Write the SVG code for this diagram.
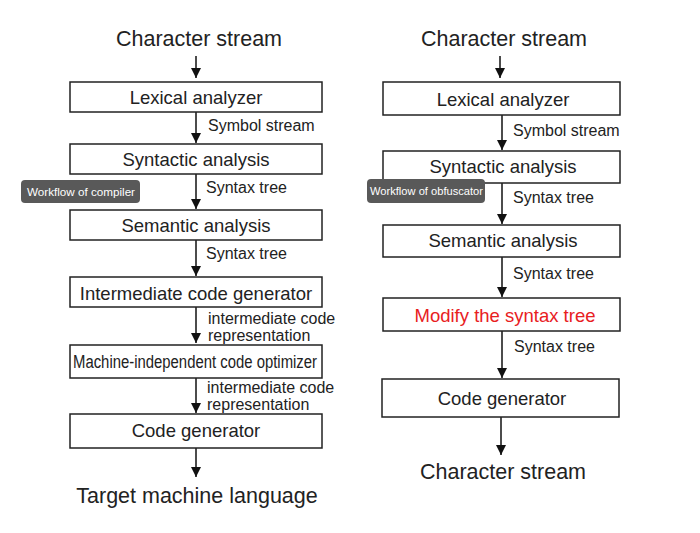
<svg xmlns="http://www.w3.org/2000/svg" width="700" height="533" viewBox="0 0 700 533">
<defs>
<marker id="ah" viewBox="0 0 10 12" refX="10" refY="6" markerWidth="10" markerHeight="12" markerUnits="userSpaceOnUse" orient="auto">
<path d="M0,1 L10,6 L0,11 z" fill="#111"/>
</marker>
<style>
.t{font-family:"Liberation Sans",Arial,sans-serif;fill:#222}
.big{font-size:21.5px;text-anchor:middle}
.box{fill:#fff;stroke:#222;stroke-width:1.5}
.bt{font-size:18.5px;text-anchor:middle}
.lb{font-size:16px}
.tip{fill:#595959}
.tt{font-family:"Liberation Sans",Arial,sans-serif;font-size:11.5px;fill:#fff}
.c{stroke:#111;stroke-width:1.5;fill:none;marker-end:url(#ah)}
</style>
</defs>
<rect width="700" height="533" fill="#fff"/>
<g id="connectors">
<line class="c" x1="196" y1="56" x2="196" y2="78"/>
<line class="c" x1="196" y1="112" x2="196" y2="143"/>
<line class="c" x1="196" y1="174" x2="196" y2="209"/>
<line class="c" x1="196" y1="240" x2="196" y2="276"/>
<line class="c" x1="196" y1="307" x2="196" y2="343"/>
<line class="c" x1="196" y1="378" x2="196" y2="413"/>
<line class="c" x1="196" y1="448" x2="196" y2="477"/>
<line class="c" x1="500" y1="56" x2="500" y2="78"/>
<line class="c" x1="502" y1="115" x2="502" y2="150"/>
<line class="c" x1="502" y1="183" x2="502" y2="224"/>
<line class="c" x1="502" y1="257" x2="502" y2="297"/>
<line class="c" x1="502" y1="331" x2="502" y2="378"/>
<line class="c" x1="501" y1="417" x2="501" y2="455"/>
</g>
<g id="labels-left">
<text class="t lb" x="208" y="131">Symbol stream</text>
<text class="t lb" x="206" y="193">Syntax tree</text>
<text class="t lb" x="206" y="259">Syntax tree</text>
<text class="t lb" x="208" y="324">intermediate code</text>
<text class="t lb" x="208" y="341">representation</text>
<text class="t lb" x="207" y="393">intermediate code</text>
<text class="t lb" x="207" y="410">representation</text>
</g>
<g id="labels-right">
<text class="t lb" x="513" y="136">Symbol stream</text>
<text class="t lb" x="513" y="203">Syntax tree</text>
<text class="t lb" x="513" y="279">Syntax tree</text>
<text class="t lb" x="514" y="352">Syntax tree</text>
</g>
<g id="l-in"><text class="t big" x="199" y="46">Character stream</text></g>
<g id="l-lex"><rect class="box" x="70" y="82" width="252" height="30"/><text class="t bt" x="196" y="104">Lexical analyzer</text></g>
<g id="l-syn"><rect class="box" x="70" y="144" width="252" height="30"/><text class="t bt" x="196" y="166">Syntactic analysis</text></g>
<g id="l-tip"><rect class="tip" x="21" y="180" width="119" height="23" rx="4"/><text class="tt" x="27" y="195.5" textLength="108" lengthAdjust="spacingAndGlyphs">Workflow of compiler</text></g>
<g id="l-sem"><rect class="box" x="70" y="210" width="252" height="30"/><text class="t bt" x="196" y="232">Semantic analysis</text></g>
<g id="l-icg"><rect class="box" x="70" y="277" width="252" height="30"/><text class="t bt" x="196" y="300">Intermediate code generator</text></g>
<g id="l-opt"><rect class="box" x="70" y="345" width="252" height="33"/><text class="t" font-size="18" x="73" y="368" textLength="244" lengthAdjust="spacingAndGlyphs">Machine-independent code optimizer</text></g>
<g id="l-cg"><rect class="box" x="70" y="414" width="252" height="34"/><text class="t bt" x="196" y="437">Code generator</text></g>
<g id="l-out"><text class="t big" x="197" y="503">Target machine language</text></g>
<g id="r-in"><text class="t big" x="504" y="46">Character stream</text></g>
<g id="r-lex"><rect class="box" x="383" y="82" width="237" height="33"/><text class="t bt" x="503" y="106">Lexical analyzer</text></g>
<g id="r-syn"><rect class="box" x="383" y="151" width="237" height="32"/><text class="t bt" x="503" y="173">Syntactic analysis</text></g>
<g id="r-tip"><rect class="tip" x="367" y="179" width="118" height="24" rx="4"/><text class="tt" x="370" y="195" textLength="113" lengthAdjust="spacingAndGlyphs">Workflow of obfuscator</text></g>
<g id="r-sem"><rect class="box" x="383" y="225" width="237" height="32"/><text class="t bt" x="503" y="247">Semantic analysis</text></g>
<g id="r-mod"><rect class="box" x="383" y="298" width="237" height="33"/><text class="t bt" x="505" y="322" style="fill:#e8201e">Modify the syntax tree</text></g>
<g id="r-cg"><rect class="box" x="382" y="379" width="237" height="38"/><text class="t bt" x="502" y="405">Code generator</text></g>
<g id="r-out"><text class="t big" x="503" y="479">Character stream</text></g>
</svg>
